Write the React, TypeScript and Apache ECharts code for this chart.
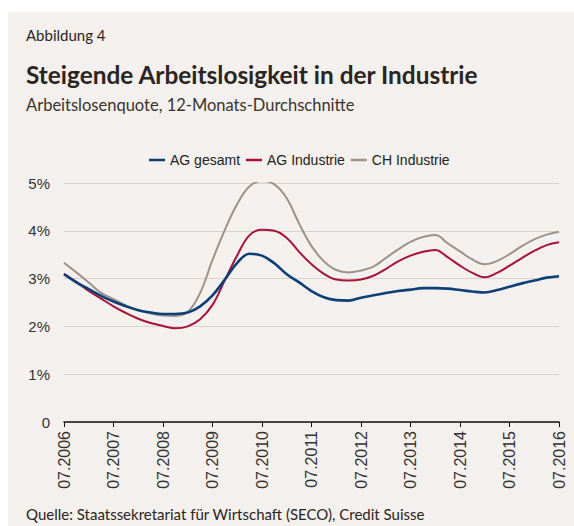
import React, { useEffect, useRef } from "react";
import * as echarts from "echarts";

const startYear = 2006;
const quarterMonths = ["07", "10", "01", "04"];
// Quarterly categories from 07.2006 to 07.2016
const categories: string[] = [];
for (let i = 0; i <= 40; i++) {
  const m = quarterMonths[i % 4];
  const y = startYear + Math.floor((i + 2) / 4);
  categories.push(`${m}.${y}`);
}

const agGesamt = [
  3.09, 2.92, 2.78, 2.64, 2.52, 2.42, 2.34, 2.29, 2.26, 2.26,
  2.29, 2.42, 2.65, 2.98, 3.33, 3.52, 3.48, 3.32, 3.09, 2.92,
  2.74, 2.61, 2.55, 2.54, 2.6, 2.65, 2.7, 2.74, 2.77, 2.8,
  2.8, 2.79, 2.76, 2.73, 2.71, 2.76, 2.83, 2.9, 2.96, 3.02, 3.05,
];
const agIndustrie = [
  3.1, 2.93, 2.74, 2.58, 2.42, 2.28, 2.16, 2.07, 2.01, 1.96,
  2.0, 2.15, 2.45, 2.97, 3.49, 3.91, 4.02, 4.0, 3.85, 3.56,
  3.3, 3.1, 2.98, 2.96, 2.98, 3.06, 3.2, 3.36, 3.48, 3.56,
  3.6, 3.45, 3.27, 3.12, 3.03, 3.12, 3.27, 3.43, 3.58, 3.7, 3.76,
];
const chIndustrie = [
  3.33, 3.13, 2.92, 2.7, 2.57, 2.44, 2.34, 2.27, 2.23, 2.22,
  2.3, 2.7, 3.39, 4.02, 4.56, 4.93, 5.04, 4.97, 4.68, 4.15,
  3.68, 3.36, 3.18, 3.13, 3.17, 3.25, 3.43, 3.61, 3.77, 3.87,
  3.91, 3.74, 3.57, 3.4, 3.3, 3.37, 3.51, 3.68, 3.82, 3.92, 3.98,
];

const seriesNames = ["AG gesamt", "AG Industrie", "CH Industrie"];
const yTicks = [0, 1, 2, 3, 4, 5];

const headerFont = "Lato, 'Open Sans', sans-serif";
const chartFont = "'Liberation Sans', Arial, sans-serif";

export default function App() {
  const ref = useRef<HTMLDivElement>(null);
  useEffect(() => {
    if (!ref.current) return;
    const chart = echarts.init(ref.current, undefined, { renderer: "svg" });
    chart.setOption({
      animation: false,
      backgroundColor: "#f3f0ed",
      textStyle: { fontFamily: chartFont },
      graphic: [
        {
          type: "text",
          left: 18,
          top: 15,
          style: { text: "Abbildung 4", font: `15px ${headerFont}`, fill: "#2b2522" },
        },
        {
          type: "text",
          left: 18,
          top: 50,
          style: {
            text: "Steigende Arbeitslosigkeit in der Industrie",
            font: `bold 24.4px ${headerFont}`,
            fill: "#2b2522",
          },
        },
        {
          type: "text",
          left: 18,
          top: 84,
          style: {
            text: "Arbeitslosenquote, 12-Monats-Durchschnitte",
            font: `16.5px ${headerFont}`,
            fill: "#3a3430",
          },
        },
        {
          type: "text",
          left: 18,
          top: 494,
          style: {
            text: "Quelle: Staatssekretariat für Wirtschaft (SECO), Credit Suisse",
            font: `15px ${headerFont}`,
            fill: "#2b2522",
          },
        },
      ],
      legend: {
        top: 136,
        left: 136,
        icon: "rect",
        itemWidth: 16,
        itemHeight: 2.5,
        itemGap: 6,
        textStyle: { fontSize: 14, color: "#222", fontFamily: chartFont },
        data: seriesNames,
      },
      grid: { left: 56, right: 15, top: 171, bottom: 104, containLabel: false },
      xAxis: {
        type: "category",
        boundaryGap: false,
        data: categories,
        axisLine: { lineStyle: { color: "#111", width: 1.5 } },
        axisTick: { interval: 3, length: 5, lineStyle: { color: "#111" } },
        axisLabel: {
          interval: 3,
          rotate: 90,
          fontSize: 16,
          color: "#333",
          margin: 9,
        },
        splitLine: { show: false },
      },
      yAxis: {
        type: "value",
        min: yTicks[0],
        max: yTicks[yTicks.length - 1],
        interval: 1,
        axisLine: { show: false },
        axisTick: { show: false },
        axisLabel: {
          fontSize: 15,
          color: "#333",
          margin: 14,
          formatter: (v: number) => (v === 0 ? "0" : `${v}%`),
        },
        splitLine: { lineStyle: { color: "#d8d3cf", width: 1 } },
      },
      series: [
        {
          name: seriesNames[0],
          type: "line",
          data: agGesamt,
          smooth: 0.4,
          showSymbol: false,
          lineStyle: { color: "#0d3f76", width: 2.6 },
          itemStyle: { color: "#0d3f76" },
          z: 3,
        },
        {
          name: seriesNames[1],
          type: "line",
          data: agIndustrie,
          smooth: 0.4,
          showSymbol: false,
          lineStyle: { color: "#a6123a", width: 2 },
          itemStyle: { color: "#a6123a" },
          z: 2,
        },
        {
          name: seriesNames[2],
          type: "line",
          data: chIndustrie,
          smooth: 0.4,
          showSymbol: false,
          lineStyle: { color: "#9b928b", width: 2 },
          itemStyle: { color: "#9b928b" },
          z: 1,
        },
      ],
    });
    return () => chart.dispose();
  }, []);
  return (
    <div
      ref={ref}
      style={{ position: "fixed", left: 8, top: 12, width: 566, height: 514 }}
    />
  );
}
